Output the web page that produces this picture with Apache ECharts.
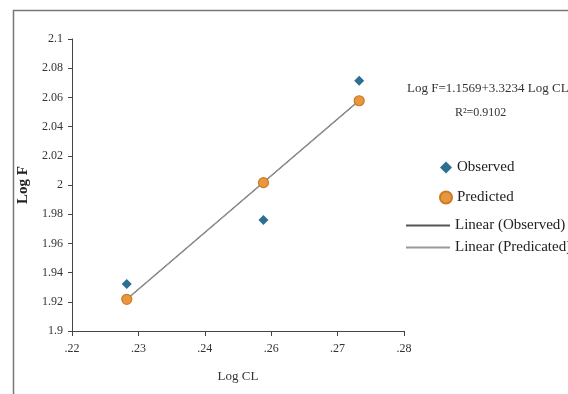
<!DOCTYPE html>
<html>
<head>
<meta charset="utf-8">
<script src="https://cdn.jsdelivr.net/npm/echarts@6/dist/echarts.min.js"></script>
<style>
html,body{margin:0;padding:0;background:#fff;}
#chart{width:568px;height:394px;}
</style>
</head>
<body>
<div id="chart"></div>
<script>
// Data
var logCL = [0.2299, 0.2546, 0.2719];
var observedLogF = [1.9322, 1.9760, 2.0714];
var predictedLogF = [1.9217, 2.0016, 2.0577];
// trend line end points
var trendObsX = [0.2299, 0.2719];
var trendObsY = [1.9218, 2.0578];
var trendPredX = [0.2299, 0.2719];
var trendPredY = [1.9217, 2.0577];
var xTicks = [0.22, 0.232, 0.244, 0.256, 0.268, 0.28];
var equationText = 'Log F=1.1569+3.3234 Log CL';
var r2Text = 'R\u00B2=0.9102';

function pairs(xs, ys) { return xs.map(function (x, i) { return [x, ys[i]]; }); }

var FONT = "'Liberation Serif', 'Times New Roman', serif";
var chart = echarts.init(document.getElementById('chart'), null, {renderer: 'canvas'});
chart.setOption({
  animation: false,
  backgroundColor: '#fff',
  textStyle: {fontFamily: FONT},
  grid: {left: 72, right: 164, top: 39, bottom: 63, containLabel: false},
  xAxis: {
    type: 'value', min: 0.22, max: 0.28,
    name: 'Log CL', nameLocation: 'middle', nameGap: 39,
    nameTextStyle: {fontFamily: FONT, fontSize: 13, color: '#333'},
    axisLine: {show: true, lineStyle: {color: '#444', width: 1}},
    axisTick: {show: true, length: 5, customValues: xTicks, lineStyle: {color: '#444'}},
    axisLabel: {customValues: xTicks, margin: 12, fontFamily: FONT, fontSize: 12, color: '#333',
      formatter: function (v) { return v.toFixed(2).replace(/^0/, ''); }},
    splitLine: {show: false}
  },
  yAxis: {
    type: 'value', min: 1.9, max: 2.1, interval: 0.02,
    name: 'Log F', nameLocation: 'middle', nameGap: 38, nameRotate: 90,
    nameTextStyle: {fontFamily: FONT, fontSize: 15, fontWeight: 'bold', color: '#222'},
    axisLine: {show: true, lineStyle: {color: '#444', width: 1}},
    axisTick: {show: true, length: 4, lineStyle: {color: '#444'}},
    axisLabel: {margin: 9, fontFamily: FONT, fontSize: 12, color: '#333',
      formatter: function (v) { return String(parseFloat(v.toFixed(2))); }},
    splitLine: {show: false}
  },
  legend: [{
    orient: 'vertical', left: 439, top: 160, padding: 0, itemWidth: 12, itemHeight: 12, itemGap: 15,
    textStyle: {fontFamily: FONT, fontSize: 15, color: '#222'},
    data: [{name: 'Observed', icon: 'diamond'}, {name: 'Predicted', icon: 'circle'}]
  }, {
    orient: 'vertical', left: 406, top: 218, padding: 0, itemWidth: 44, itemHeight: 2, itemGap: 7,
    textStyle: {fontFamily: FONT, fontSize: 15, color: '#222'},
    data: [{name: 'Linear (Observed)', icon: 'rect'}, {name: 'Linear (Predicated)', icon: 'rect'}]
  }],
  graphic: [
    {type: 'rect', silent: true, z: -1, shape: {x: 13.5, y: 10.5, width: 600, height: 420},
      style: {fill: 'none', stroke: '#777', lineWidth: 1.5}},
    {type: 'text', left: 407, top: 82, style: {text: equationText, font: "13px 'Liberation Serif', serif", fill: '#333'}},
    {type: 'text', left: 455, top: 107, style: {text: r2Text, font: "12px 'Liberation Serif', serif", fill: '#333'}}
  ],
  series: [{
    name: 'Linear (Observed)', type: 'line', data: pairs(trendObsX, trendObsY),
    showSymbol: false, symbol: 'none', z: 1,
    lineStyle: {color: '#666', width: 1.3}, itemStyle: {color: '#555'}
  }, {
    name: 'Linear (Predicated)', type: 'line', data: pairs(trendPredX, trendPredY),
    showSymbol: false, symbol: 'none', z: 1,
    lineStyle: {color: '#999', width: 1}, itemStyle: {color: '#9a9a9a'}
  }, {
    name: 'Observed', type: 'scatter', data: pairs(logCL, observedLogF),
    symbol: 'diamond', symbolSize: 10, z: 3,
    itemStyle: {color: '#2b6f93', opacity: 1}
  }, {
    name: 'Predicted', type: 'scatter', data: pairs(logCL, predictedLogF),
    symbol: 'circle', symbolSize: 10, z: 3,
    itemStyle: {color: '#e9973f', borderColor: '#cc7a25', borderWidth: 1.2, opacity: 1}
  }]
});
</script>
</body>
</html>
